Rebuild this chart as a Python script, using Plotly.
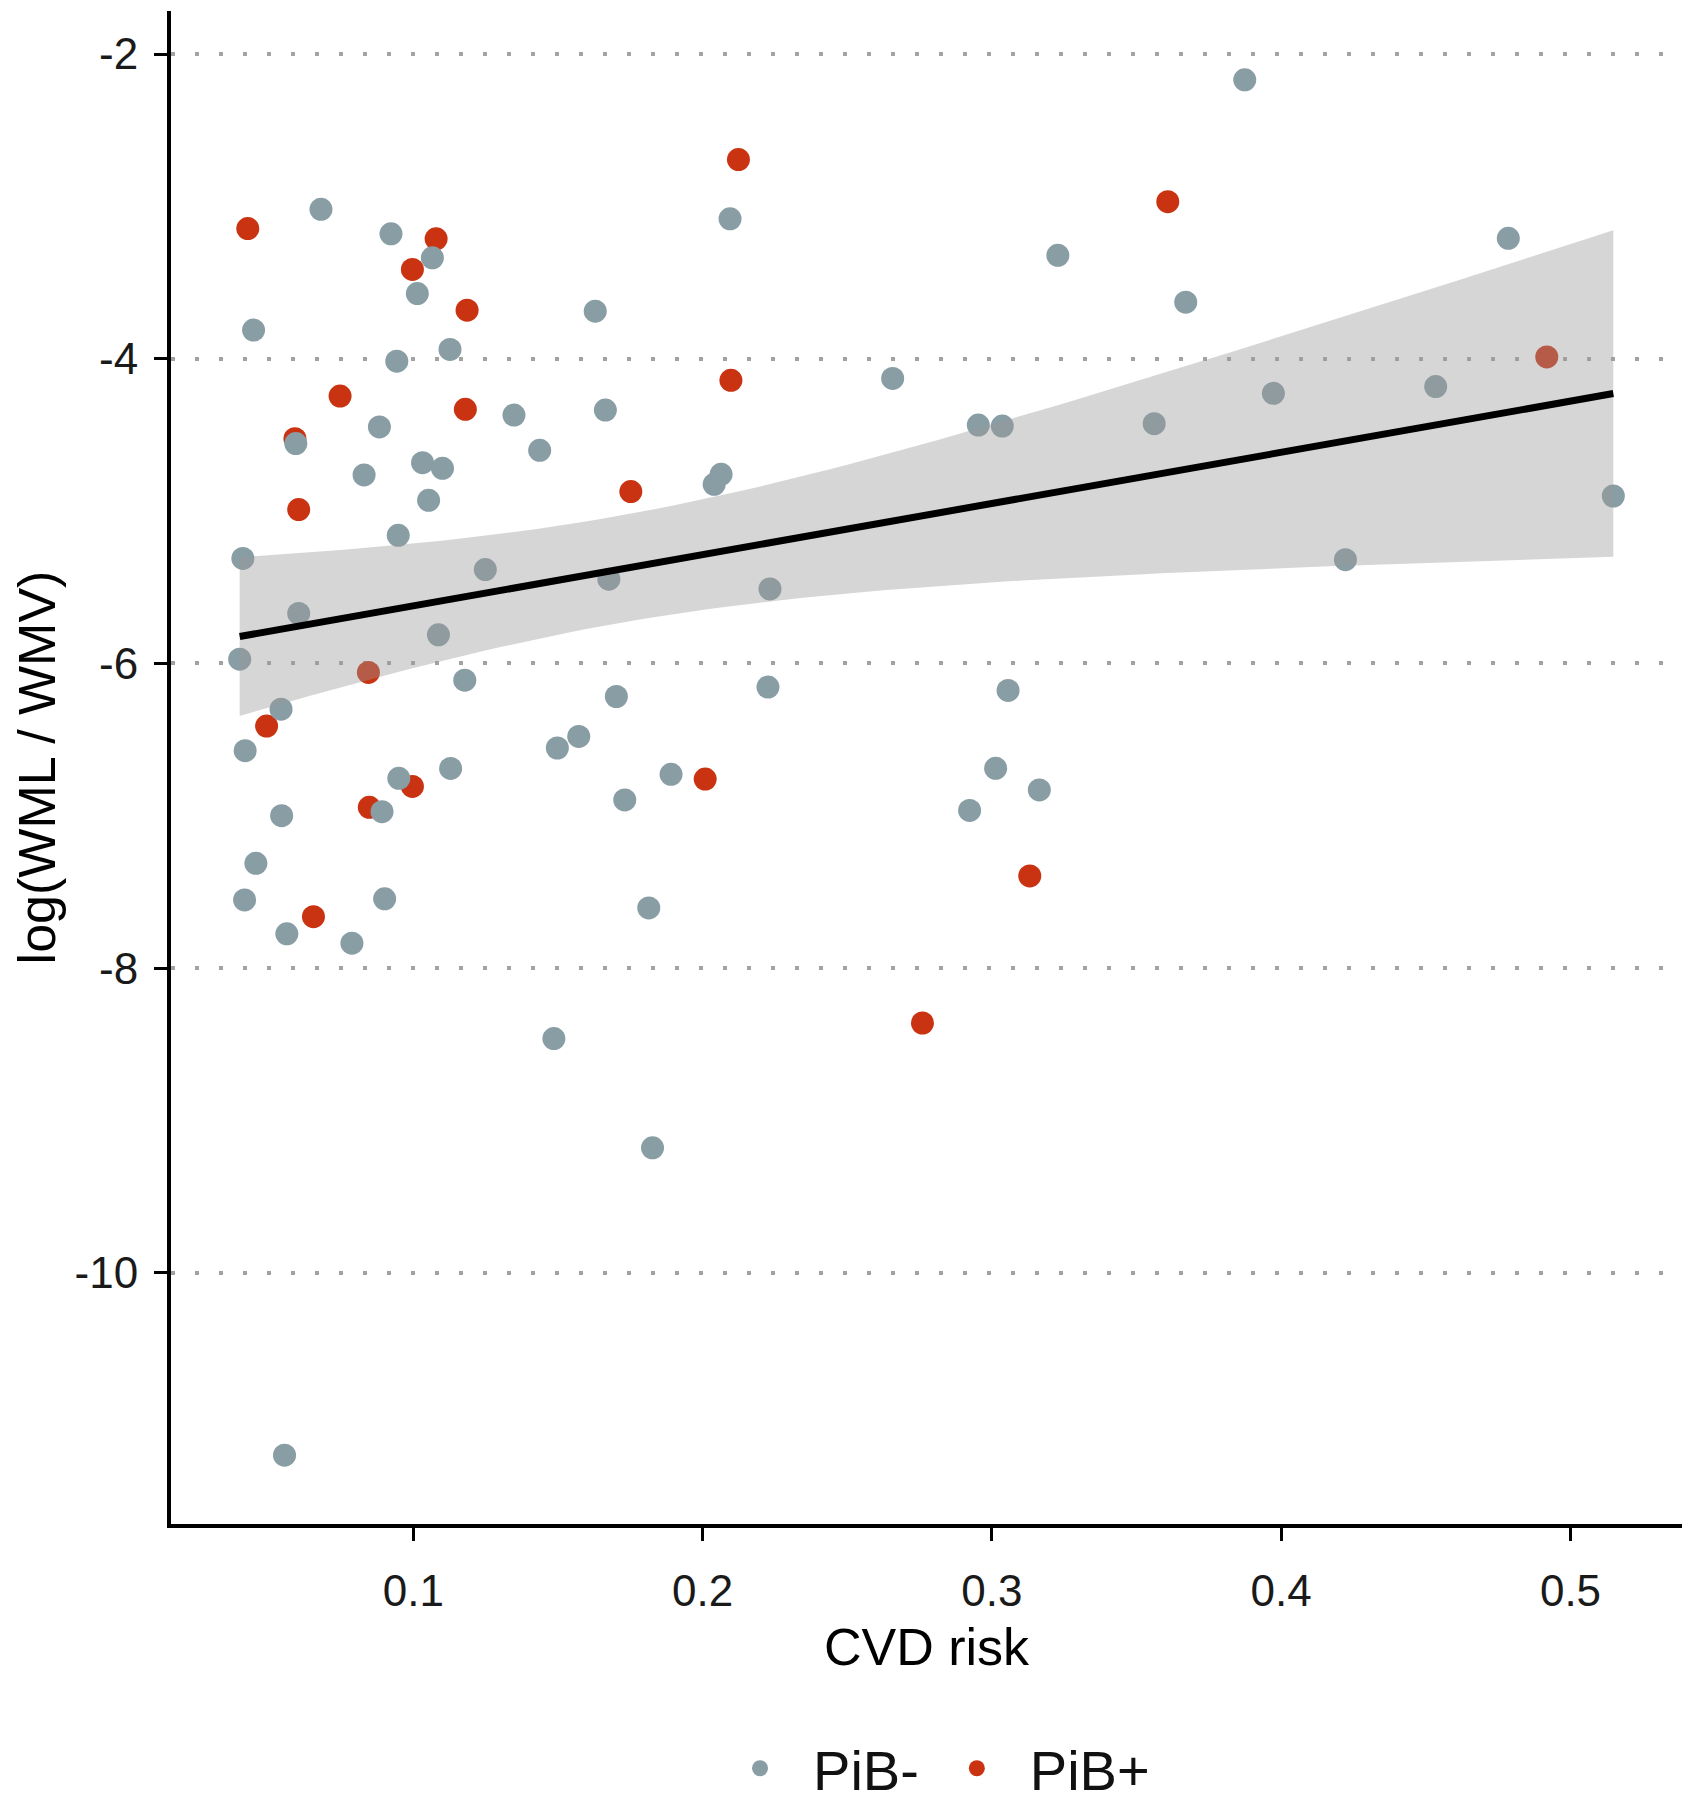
import numpy as np
import plotly.graph_objects as go

# ---- data ----
pib_neg_cvd = [0.0681, 0.0923, 0.1066, 0.1014, 0.1629, 0.0448, 0.1127, 0.0943, 0.1348, 0.1664,
               0.0883, 0.0594, 0.1437, 0.1032, 0.1101, 0.0830, 0.1053, 0.0948, 0.0411, 0.1249,
               0.1676, 0.0604, 0.1087, 0.0400, 0.1178, 0.1702, 0.0543, 0.0419, 0.1498, 0.1572,
               0.1129, 0.1891, 0.0950, 0.1731, 0.0892, 0.0545, 0.0456, 0.0417, 0.0901, 0.1814,
               0.0563, 0.0788, 0.1486, 0.1827, 0.0555, 0.2095, 0.3228, 0.3670, 0.2657, 0.2953,
               0.3036, 0.3561, 0.2064, 0.2040, 0.2233, 0.2226, 0.3056, 0.3013, 0.3164, 0.2923,
               0.3874, 0.4785, 0.3973, 0.4534, 0.5148, 0.4222]
pib_neg_wml = [-3.019, -3.180, -3.338, -3.572, -3.688, -3.812, -3.939, -4.016, -4.370, -4.337,
               -4.448, -4.557, -4.601, -4.682, -4.719, -4.763, -4.929, -5.159, -5.311, -5.384,
               -5.447, -5.672, -5.812, -5.972, -6.110, -6.217, -6.300, -6.573, -6.555, -6.479,
               -6.689, -6.728, -6.754, -6.896, -6.973, -6.999, -7.312, -7.552, -7.545, -7.605,
               -7.775, -7.836, -8.462, -9.179, -11.197, -3.082, -3.321, -3.629, -4.129, -4.435,
               -4.442, -4.426, -4.759, -4.824, -5.511, -6.155, -6.177, -6.688, -6.830, -6.965,
               -2.169, -3.210, -4.227, -4.183, -4.901, -5.319]

pib_pos_cvd = [0.0428, 0.1079, 0.0997, 0.1186, 0.0747, 0.1180, 0.0591, 0.1752, 0.0604, 0.0845,
               0.0493, 0.2009, 0.0997, 0.0848, 0.0655, 0.2124, 0.3608, 0.2098, 0.3131, 0.2760,
               0.4918]
pib_pos_wml = [-3.146, -3.213, -3.414, -3.681, -4.245, -4.332, -4.525, -4.872, -4.990, -6.059,
               -6.411, -6.759, -6.807, -6.944, -7.662, -2.693, -2.969, -4.142, -7.395, -8.360,
               -3.988]

group_names = ["PiB-", "PiB+"]
group_colors = ["#899DA4", "#C93312"]

x_ticks = [0.1, 0.2, 0.3, 0.4, 0.5]
y_ticks = [-2, -4, -6, -8, -10]

# ---- linear fit with 95% confidence band (all points) ----
x_all = np.array(pib_neg_cvd + pib_pos_cvd)
y_all = np.array(pib_neg_wml + pib_pos_wml)
n = len(x_all)
slope, intercept = np.polyfit(x_all, y_all, 1)
resid = y_all - (intercept + slope * x_all)
s = np.sqrt(np.sum(resid ** 2) / (n - 2))
xm = x_all.mean()
sxx = np.sum((x_all - xm) ** 2)
t_crit = 1.988  # t(0.975, df = n - 2)
xs = np.linspace(x_all.min(), x_all.max(), 80)
ys = intercept + slope * xs
se = s * np.sqrt(1.0 / n + (xs - xm) ** 2 / sxx)
upper = ys + t_crit * se
lower = ys - t_crit * se

# axis ranges with 5% expansion (ggplot style)
xspan = x_all.max() - x_all.min()
yspan = y_all.max() - y_all.min()
xr = [x_all.min() - 0.05 * xspan, x_all.max() + 0.05 * xspan]
yr = [y_all.min() - 0.05 * yspan, y_all.max() + 0.05 * yspan]

FONT = "Liberation Sans, Arial, Helvetica, sans-serif"

fig = go.Figure()
fig.add_trace(go.Scatter(x=pib_pos_cvd, y=pib_pos_wml, mode="markers", name=group_names[1],
                         marker=dict(color=group_colors[1], size=23, line=dict(width=0)),
                         legendrank=2))
fig.add_trace(go.Scatter(x=pib_neg_cvd, y=pib_neg_wml, mode="markers", name=group_names[0],
                         marker=dict(color=group_colors[0], size=23, line=dict(width=0)),
                         legendrank=1))
fig.add_trace(go.Scatter(x=np.concatenate([xs, xs[::-1]]), y=np.concatenate([upper, lower[::-1]]),
                         mode="lines", fill="toself", fillcolor="rgba(153,153,153,0.4)",
                         line=dict(width=0), showlegend=False, hoverinfo="skip"))
fig.add_trace(go.Scatter(x=xs, y=ys, mode="lines", line=dict(color="black", width=7),
                         showlegend=False, hoverinfo="skip"))

fig.update_layout(
    width=1687, height=1820,
    margin=dict(l=163, r=13, t=3, b=304, autoexpand=False),
    paper_bgcolor="white", plot_bgcolor="white",
    font=dict(family=FONT, color="#111111"),
    showlegend=True,
    legend=dict(orientation="h", x=0.503, xanchor="center", y=-0.1615, yanchor="middle",
                font=dict(size=56, color="#111111"), itemsizing="trace", itemwidth=96,
                traceorder="normal"),
)
fig.update_xaxes(range=xr, tickvals=x_ticks, ticktext=[f"{v:.1f}" for v in x_ticks],
                 showline=True, linecolor="black", linewidth=4, ticks="outside", ticklen=13,
                 tickwidth=3, tickcolor="black", showgrid=False, zeroline=False, automargin=False,
                 tickfont=dict(size=44, color="#1a1a1a"), ticklabelstandoff=12,
                 title=dict(text="CVD risk", font=dict(size=52, color="black"), standoff=16))
fig.update_yaxes(range=yr, tickvals=y_ticks, ticktext=[str(v) for v in y_ticks],
                 showline=True, linecolor="black", linewidth=4, ticks="outside", ticklen=13,
                 tickwidth=3, tickcolor="black", zeroline=False, automargin=False,
                 showgrid=True, gridcolor="#a3a3a3", gridwidth=3.5, griddash="3.5px,20.5px",
                 tickfont=dict(size=44, color="#1a1a1a"), ticklabelstandoff=7,
                 title=dict(text="log(WML / WMV)", font=dict(size=52, color="black"), standoff=14))

fig.write_html("out.html")
